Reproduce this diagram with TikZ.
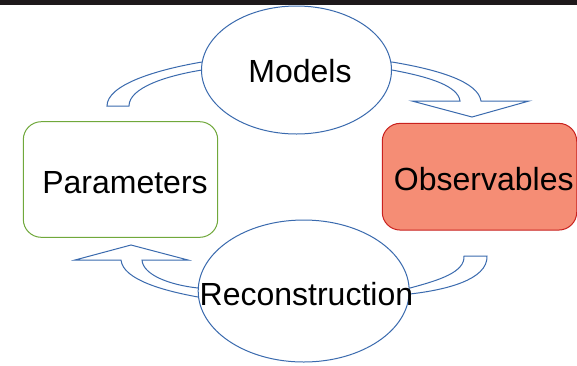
\documentclass[tikz,border=0pt]{standalone}
\usepackage{fontspec}
\setmainfont{Liberation Sans}
\usetikzlibrary{shapes.geometric}
\definecolor{lineblue}{HTML}{3A6AAE}
\definecolor{boxgreen}{HTML}{70A83B}
\definecolor{obsfill}{HTML}{F58D75}
\definecolor{obsdraw}{HTML}{C9211E}
\definecolor{topdark}{HTML}{1E191B}
\tikzset{
  band/.style={draw=lineblue, fill=white, line width=1pt, line join=miter},
  oval/.style={ellipse, draw=lineblue, fill=white, line width=1pt, inner sep=0pt},
  box/.style={rectangle, rounded corners=18pt, line width=1pt, inner sep=0pt},
  txt/.style={font=\fontsize{32}{32}\selectfont, inner sep=0pt, anchor=base, text=black}
}
\begin{document}
\begin{tikzpicture}[x=1pt,y=-1pt]
\useasboundingbox (0,0) rectangle (577,365);
\fill[white] (0,0) rectangle (577,365);
\fill[topdark] (0,0) rectangle (577,4.5);

% block arrows (drawn first, ellipses cover their ends)
\draw[band] (129,106) .. controls (129,88) and (165,76) .. (202,70) -- (210,70) -- (210,62) -- (202,62) .. controls (155,70) and (107,85) .. (107,106) -- cycle;
\draw[band] (385,70) -- (392,70) .. controls (430,77) and (458,86) .. (460,101) -- (412,101) -- (472,117) -- (529,101) -- (481,101) .. controls (478,82) and (440,70) .. (392,62) -- (385,62) -- cycle;
\draw[band] (198,288) .. controls (170,285) and (143,275) .. (142,260) -- (188,260) -- (131,245) -- (75,260) -- (121,260) .. controls (123,280) and (165,291) .. (198,297) -- (206,297) -- (206,288) -- cycle;
\draw[band] (410,288) .. controls (440,280) and (465,272) .. (464,256) -- (487,256) .. controls (488,280) and (445,290) .. (410,294) -- (402,294) -- (402,288) -- cycle;

% shapes
\node[oval, minimum width=190pt, minimum height=128pt] (models) at (296.5,70) {};
\node[oval, minimum width=211pt, minimum height=142pt] (recon) at (303.7,291) {};
\node[box, draw=boxgreen, fill=white, minimum width=194.4pt, minimum height=115.6pt] (params) at (120.5,179.5) {};
\node[box, draw=obsdraw, fill=obsfill, minimum width=194.5pt, minimum height=106.7pt] (obs) at (479.5,176.7) {};

% texts
\node[txt] (models-t) at (300,82.7) {Models};
\node[txt] (params-t) at (125,193.3) {Parameters};
\node[txt] (obs-t) at (483.8,190) {Observables};
\node[txt] (recon-t) at (306.4,305) {Reconstruction};
\end{tikzpicture}
\end{document}
